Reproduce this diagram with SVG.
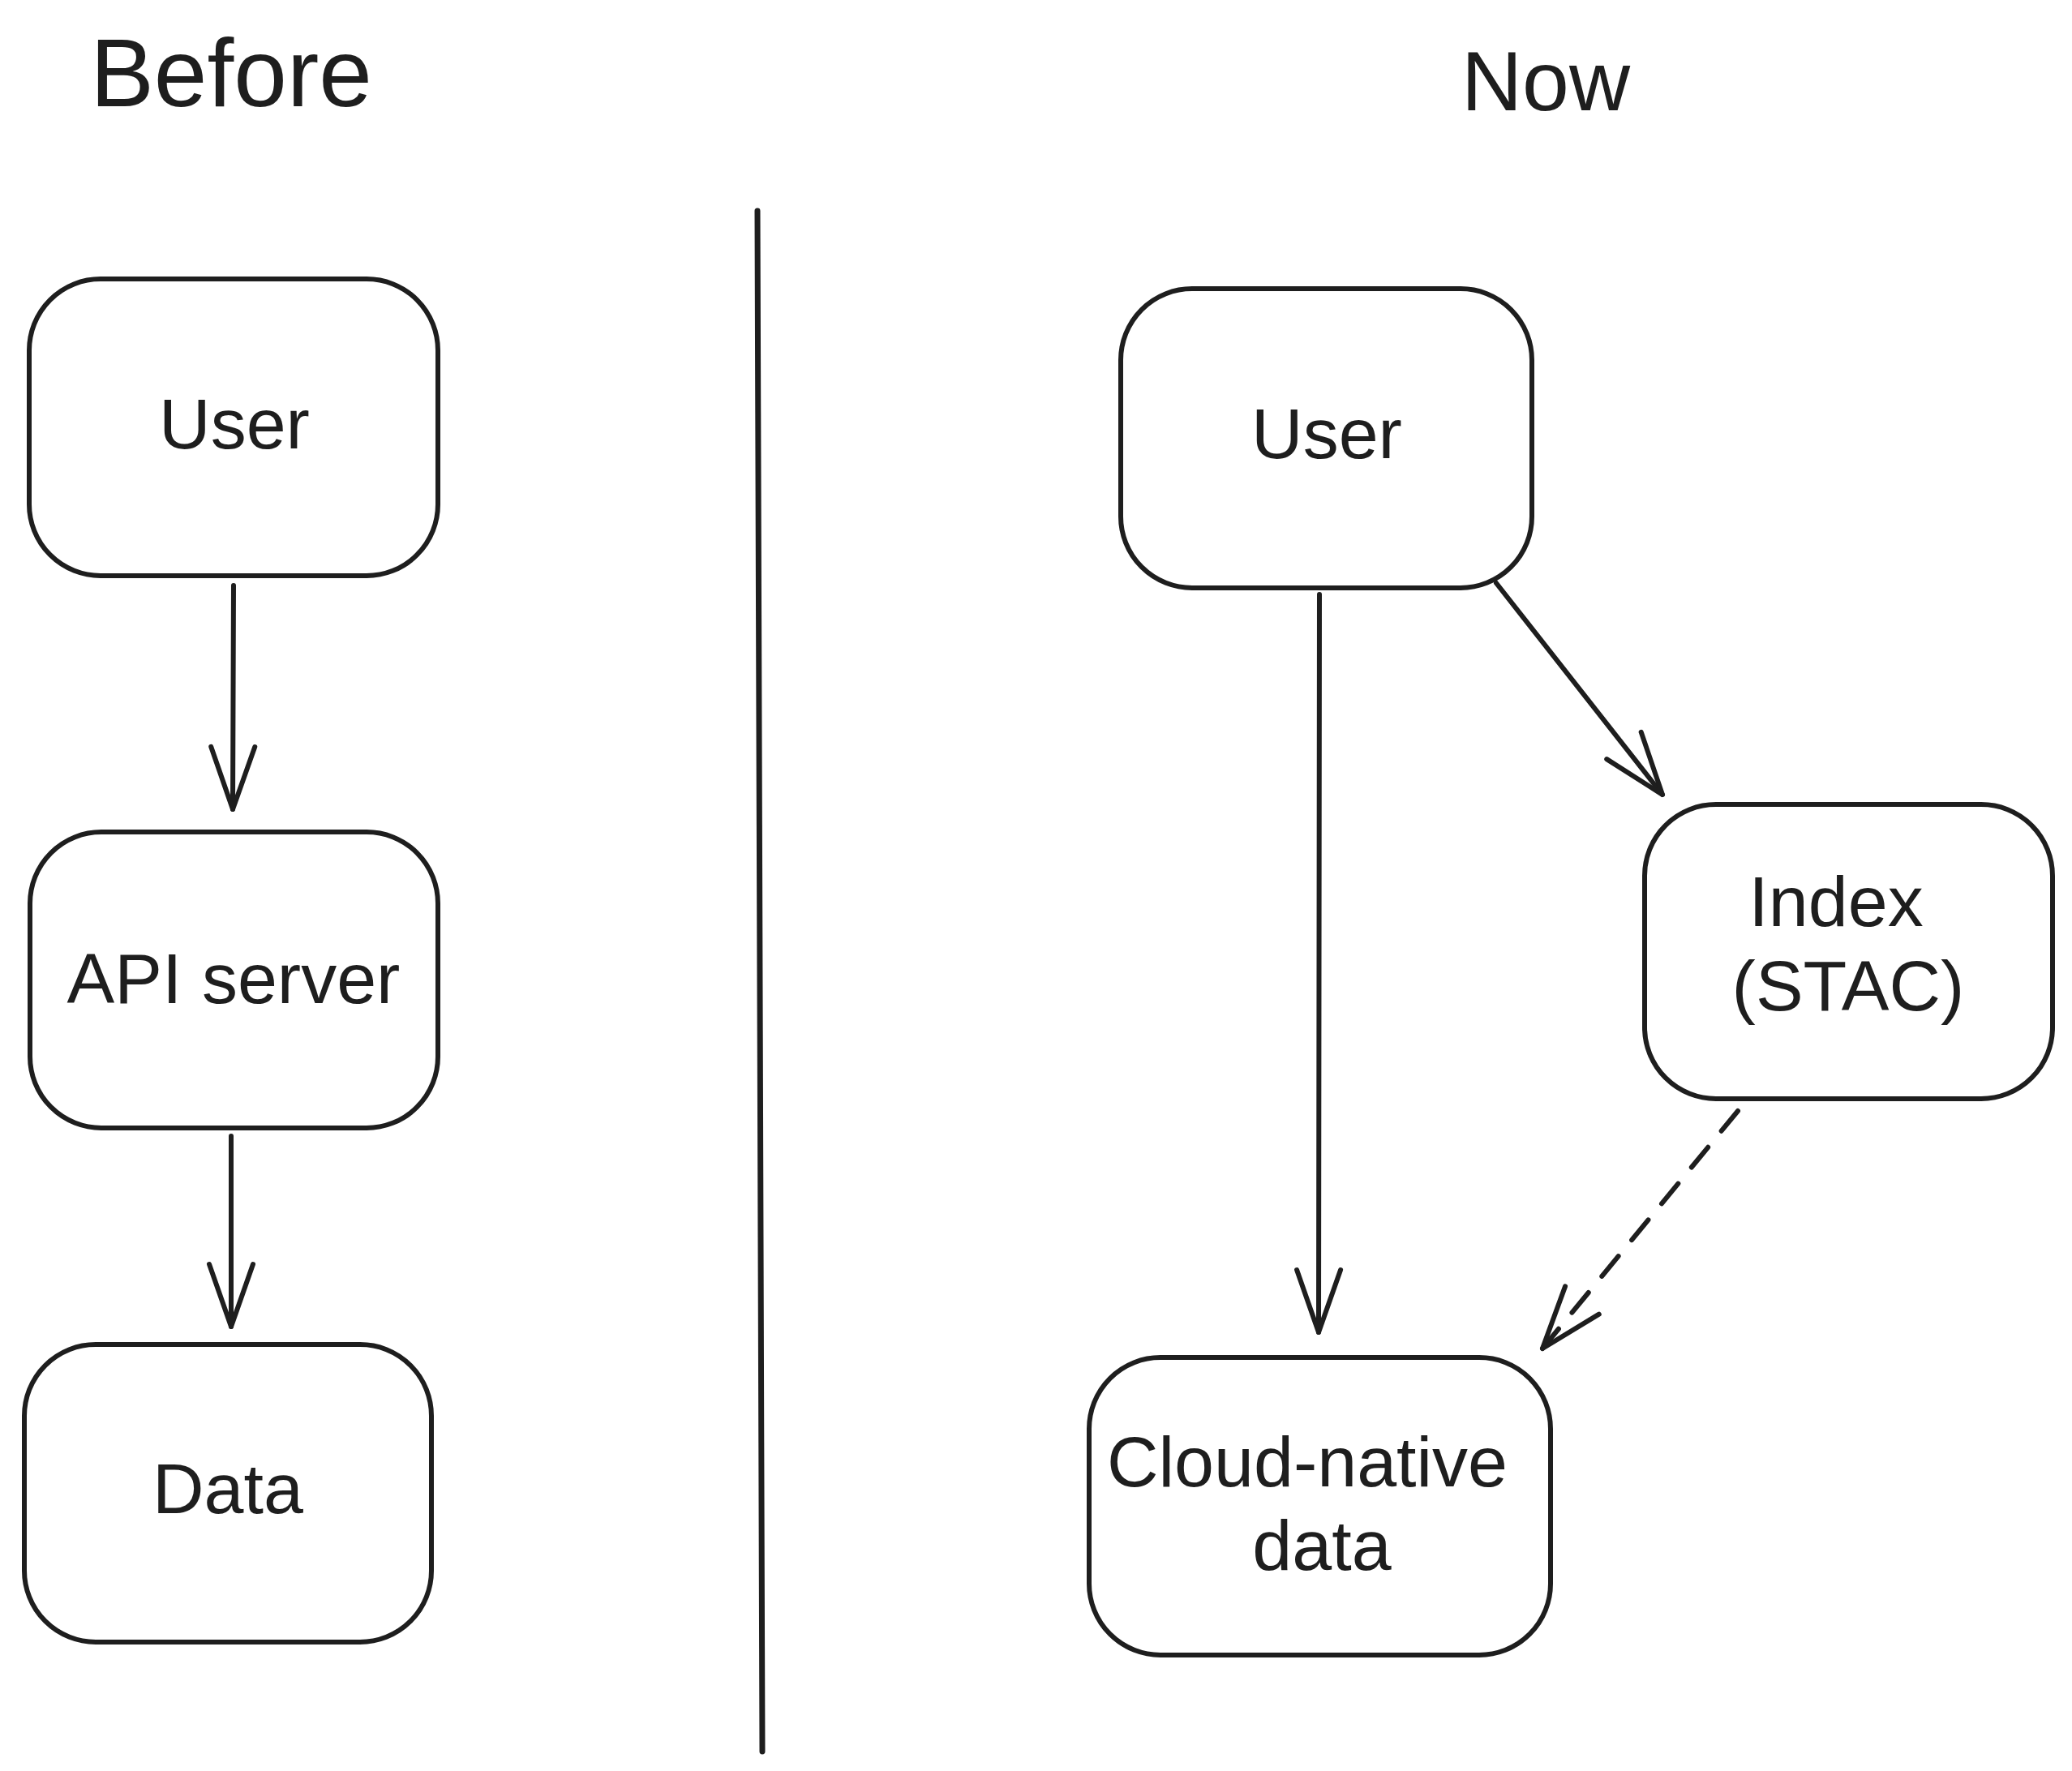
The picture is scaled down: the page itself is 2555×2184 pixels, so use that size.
<svg xmlns="http://www.w3.org/2000/svg" width="2555" height="2184" viewBox="0 0 2555 2184">
<defs>
<style>
.box{fill:none;stroke:#1e1e1e;stroke-width:6;stroke-linejoin:round}
.lbl{font-family:"Liberation Sans","DejaVu Sans",sans-serif;font-size:88px;fill:#1e1e1e;text-anchor:middle}
.ttl{font-family:"Liberation Sans","DejaVu Sans",sans-serif;font-size:118px;fill:#1e1e1e;text-anchor:middle}
.edge{fill:none;stroke:#1e1e1e;stroke-width:6;stroke-linecap:round}
.dash{stroke-dasharray:32 26}
</style>
<marker id="ah" markerUnits="userSpaceOnUse" orient="auto" overflow="visible" markerWidth="1" markerHeight="1" refX="0" refY="0">
<path d="M -77 -27 L 0 0 L -77 27" fill="none" stroke="#1e1e1e" stroke-width="6" stroke-linecap="round" stroke-linejoin="round" stroke-dasharray="none"/>
</marker>
</defs>
<rect width="2555" height="2184" fill="#ffffff"/>
<g id="titles">
<text class="ttl" x="285" y="131">Before</text>
<text class="ttl" x="1906" y="136" style="font-size:104px">Now</text>
</g>
<g id="divider">
<line x1="934" y1="260" x2="940" y2="2160" stroke="#1e1e1e" stroke-width="7" stroke-linecap="round"/>
</g>
<g id="connectors">
<path class="edge" d="M 288 722 L 287 998" marker-end="url(#ah)"/>
<path class="edge" d="M 285 1401 L 285 1636" marker-end="url(#ah)"/>
<path class="edge" d="M 1627 733 L 1626 1643" marker-end="url(#ah)"/>
<path class="edge" d="M 1845 719 L 2050 980" marker-end="url(#ah)"/>
<path class="edge dash" d="M 2143 1370 L 1902 1663" marker-end="url(#ah)"/>
</g>
<g id="node-before-user">
<rect class="box" x="36" y="344" width="504" height="366" rx="88" ry="88"/>
<text class="lbl" x="289" y="553">User</text>
</g>
<g id="node-api-server">
<rect class="box" x="37" y="1026" width="503" height="365" rx="88" ry="88"/>
<text class="lbl" x="288" y="1237">API server</text>
</g>
<g id="node-data">
<rect class="box" x="30" y="1658" width="502" height="367" rx="88" ry="88"/>
<text class="lbl" x="281" y="1866">Data</text>
</g>
<g id="node-now-user">
<rect class="box" x="1382" y="356" width="507" height="369" rx="88" ry="88"/>
<text class="lbl" x="1636" y="565">User</text>
</g>
<g id="node-index">
<rect class="box" x="2028" y="992" width="503" height="363" rx="88" ry="88"/>
<text class="lbl" x="2264" y="1142">Index</text>
<text class="lbl" x="2279" y="1246">(STAC)</text>
</g>
<g id="node-cloud-native-data">
<rect class="box" x="1343" y="1674" width="569" height="367" rx="88" ry="88"/>
<text class="lbl" x="1612" y="1833">Cloud-native</text>
<text class="lbl" x="1630" y="1936">data</text>
</g>
</svg>
